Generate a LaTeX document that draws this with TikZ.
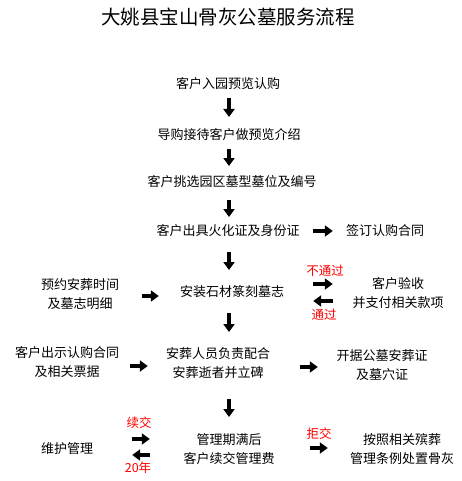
\documentclass[tikz,border=0pt]{standalone}
\usepackage{fontspec}
\setmainfont{Noto Sans CJK SC}
\usetikzlibrary{arrows.meta}

\begin{document}
\begin{tikzpicture}[x=1pt, y=-1pt,
    every node/.style={inner sep=0pt, align=center,
                       font=\fontsize{13}{19}\selectfont},
    flowarrow/.style={line width=4.5pt, -{Triangle[length=8pt, width=11pt]}},
    passlabel/.style={text=red, font=\fontsize{12.5}{15}\selectfont}]

\useasboundingbox (0, 0) rectangle (461, 481);

% =============================================================================
% Title
% =============================================================================
\node[font=\fontsize{19.5}{23}\selectfont] (title) at (228, 17)
    {大姚县宝山骨灰公墓服务流程};

% =============================================================================
% Main column
% =============================================================================
\coordinate (axis) at (229, 0);

\node (visit)   at (228, 84)    {客户入园预览认购};
\node (guide)   at (229, 135)   {导购接待客户做预览介绍};
\node (choose)  at (232, 182)   {客户挑选园区墓型墓位及编号};
\node (papers)  at (228, 231)   {客户出具火化证及身份证};
\node (carve)   at (232, 291)   {安装石材篆刻墓志};
\node (bury)    at (218, 363.5) {安葬人员负责配合\\安葬逝者并立碑};
\node (renew)   at (229, 449)   {管理期满后\\客户续交管理费};

% Down arrows
\draw[flowarrow, shorten <=14pt, shorten >=18pt] (visit -| axis) -- (guide -| axis);
\draw[flowarrow, shorten <=14pt, shorten >=16pt] (guide -| axis) -- (choose -| axis);
\draw[flowarrow, shorten <=18pt, shorten >=14pt] (choose -| axis) -- (papers -| axis);
\draw[flowarrow, shorten <=21pt, shorten >=21pt] (papers -| axis) -- (carve -| axis);
\draw[flowarrow, shorten <=22pt, shorten >=31.5pt] (carve -| axis) -- (bury -| axis);
\draw[flowarrow, shorten <=35.5pt, shorten >=32pt] (bury -| axis) -- (renew -| axis);

% =============================================================================
% Side steps
% =============================================================================
\node (sign)    at (385, 231)   {签订认购合同};
\node (book)    at (80, 294)    {预约安葬时间\\及墓志明细};
\node (check)   at (398, 293.5) {客户验收\\并支付相关款项};
\node (contract) at (67, 362)   {客户出示认购合同\\及相关票据};
\node (permit)  at (382, 365)   {开据公墓安葬证\\及墓穴证};
\node (keep)    at (67, 449)    {维护管理};
\node (dispose) at (402, 449)   {按照相关殡葬\\管理条例处置骨灰};

% Side arrows
\draw[flowarrow, shorten <=13.5pt, shorten >=13pt]
    (papers.east) -- (papers.east -| sign.west);
\draw[flowarrow, shorten <=23pt, shorten >=21pt]
    ([yshift=-2pt]book.east) -- ([yshift=-2pt]book.east -| carve.west);
\draw[flowarrow, shorten <=29pt, shorten >=19.5pt]
    ([yshift=7pt]carve.east) -- ([yshift=7pt]carve.east -| check.west);
\draw[flowarrow, shorten <=19.5pt, shorten >=29pt]
    ([yshift=-10pt]carve.east -| check.west) -- ([yshift=-10pt]carve.east);
\draw[flowarrow, shorten <=11pt, shorten >=18pt]
    ([yshift=-4pt]contract.east) -- ([yshift=-4pt]contract.east -| bury.west);
\draw[flowarrow, shorten <=30pt, shorten >=18.5pt]
    ([yshift=-3.5pt]bury.east) -- ([yshift=-3.5pt]bury.east -| permit.west);
\draw[flowarrow, shorten <=39pt, shorten >=33.5pt]
    ([yshift=10pt]keep.east) -- ([yshift=10pt]keep.east -| renew.west);
\draw[flowarrow, shorten <=33.5pt, shorten >=39pt]
    ([yshift=-6pt]renew.west) -- ([yshift=-6pt]renew.west -| keep.east);
\draw[flowarrow, shorten <=35.5pt, shorten >=22pt]
    ([yshift=1pt]renew.east) -- ([yshift=1pt]renew.east -| dispose.west);

% Red labels
\node[passlabel] (fail)   at (325, 271) {不通过};
\node[passlabel] (pass)   at (324, 315) {通过};
\node[passlabel] (goon)   at (139, 423) {续交};
\node[passlabel] (term)   at (138, 468) {20年};
\node[passlabel] (refuse) at (319, 434) {拒交};

\end{tikzpicture}
\end{document}
